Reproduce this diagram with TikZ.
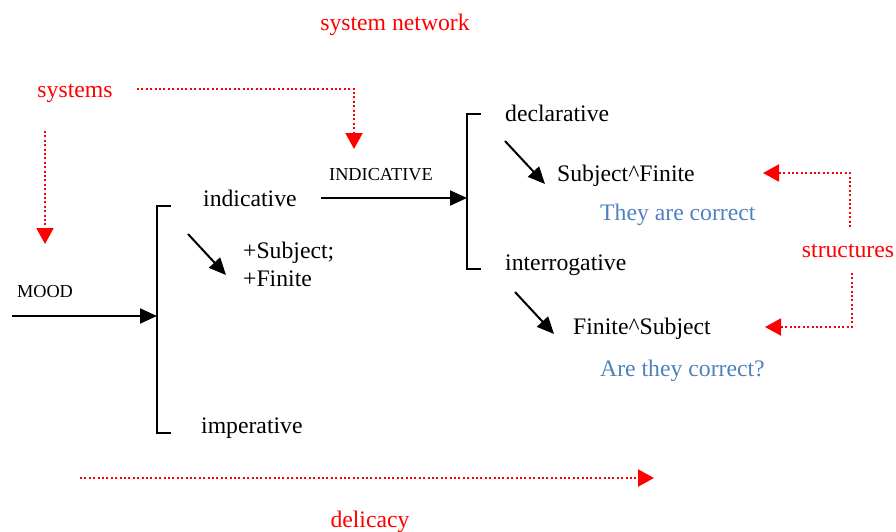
\documentclass[tikz,border=0pt]{standalone}
\usepackage{fontspec}
\setmainfont{Liberation Serif}
\usetikzlibrary{arrows.meta}
\definecolor{exblue}{RGB}{79,129,189}
\begin{document}
\begin{tikzpicture}[x=1pt,y=-1pt,
  lbl/.style={font=\fontsize{23.7}{28}\selectfont, inner sep=0pt, yshift=-2.5pt},
  sml/.style={font=\fontsize{18.3}{22}\selectfont, inner sep=0pt, yshift=-2pt},
  note/.style={lbl, text=red},
  ex/.style={lbl, text=exblue},
  arr/.style={line width=2pt, -{Triangle[length=17pt,width=15pt]}},
  brk/.style={line width=2pt},
  dotarr/.style={red, line width=2pt, dash pattern=on 2pt off 2.4pt,
                 -{Triangle[length=16pt,width=17pt]}}]
\useasboundingbox (0,0) rectangle (896,531);

% red annotations
\node[note] (sysnet) at (395,22) {system network};
\node[note] (systems) at (75,91) {systems};
\node[note] (structures) at (848,248) {structures};
\node[note] (delicacy) at (370,519) {delicacy};

% first system: MOOD
\node[sml] (mood) at (45,290) {MOOD};
\coordinate (moodstart) at (12,316);
\coordinate (b1top) at (171,206);
\coordinate (b1mid) at (157,316);
\coordinate (b1bot) at (171,433);
\draw[brk] (b1top) -| (157,316) |- (b1bot);
\draw[arr] (moodstart) -- (b1mid);

\node[lbl, anchor=west] (indic) at (203,196) {indicative};
\node[lbl, anchor=west] (imper) at (201,426) {imperative};
\node[lbl, anchor=north west, align=left] (real1) at (243,239) {+Subject;\\+Finite};
\coordinate (r1a) at (188,234);
\coordinate (r1b) at (226,275);
\draw[arr] (r1a) -- (r1b);

% second system: INDICATIVE
\node[sml] (indsys) at (381,173) {INDICATIVE};
\coordinate (indstart) at (321,198);
\coordinate (b2top) at (481,114);
\coordinate (b2mid) at (467,198);
\coordinate (b2bot) at (481,269);
\draw[brk] (b2top) -| (467,198) |- (b2bot);
\draw[arr] (indstart) -- (b2mid);

\node[lbl, anchor=west] (decl) at (505,111) {declarative};
\node[lbl, anchor=west] (inter) at (505,263) {interrogative};
\node[lbl, anchor=west] (sf) at (557,173) {Subject\textasciicircum Finite};
\node[lbl, anchor=west] (fs) at (573,326) {Finite\textasciicircum Subject};
\node[ex, anchor=west] (ex1) at (600,212) {They are correct};
\node[ex, anchor=west] (ex2) at (600,368) {Are they correct?};

\coordinate (r2a) at (505,141);
\coordinate (r2b) at (545,184);
\draw[arr] (r2a) -- (r2b);
\coordinate (r3a) at (515,292);
\coordinate (r3b) at (554,334);
\draw[arr] (r3a) -- (r3b);

% dotted pointers
\coordinate (sysright) at (137,89);
\coordinate (systip) at (354,149);
\draw[dotarr] (sysright) -| (systip);
\coordinate (sysdown) at (45,131);
\coordinate (sysdowntip) at (45,244);
\draw[dotarr] (sysdown) -- (sysdowntip);

\coordinate (stup) at (850,227);
\coordinate (sttip1) at (763,173);
\draw[dotarr] (stup) |- (sttip1);
\coordinate (stdown) at (852,273);
\coordinate (sttip2) at (765,327);
\draw[dotarr] (stdown) |- (sttip2);

\coordinate (delstart) at (80,478);
\coordinate (deltip) at (654,478);
\draw[dotarr] (delstart) -- (deltip);
\end{tikzpicture}
\end{document}
